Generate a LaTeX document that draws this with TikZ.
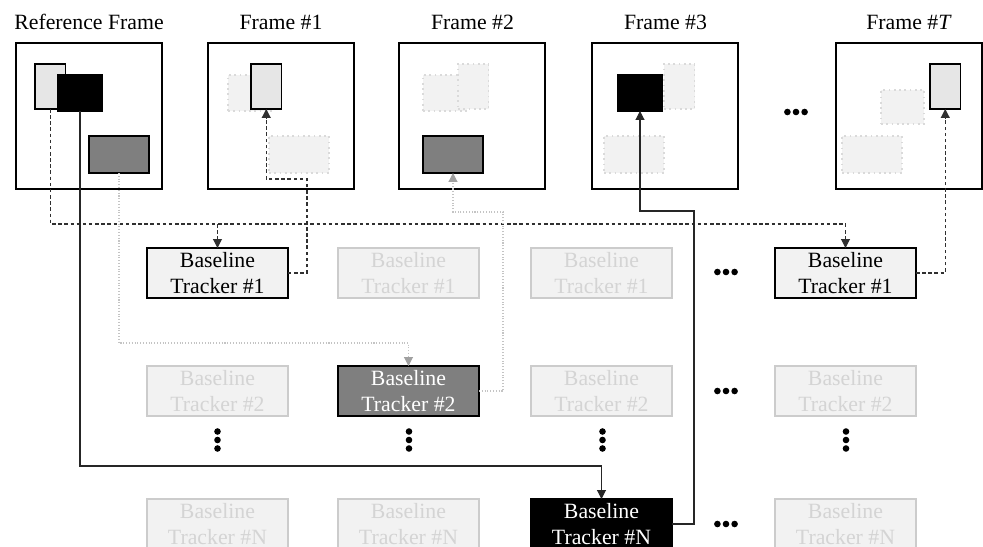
\documentclass[tikz,border=0pt]{standalone}
\usepackage{fontspec}
\setmainfont{Liberation Serif}
\usetikzlibrary{arrows.meta}
\definecolor{lightfill}{HTML}{E6E6E6}
\definecolor{ghostfill}{HTML}{F2F2F2}
\definecolor{ghostline}{HTML}{DADADA}
\definecolor{darkfill}{HTML}{7F7F7F}
\definecolor{fadeline}{HTML}{CCCCCC}
\definecolor{fadetext}{HTML}{D4D4D4}
\definecolor{grayarrow}{HTML}{A0A0A0}
\definecolor{grayline}{HTML}{C4C4C4}
\definecolor{dashcol}{HTML}{303030}
\begin{document}
\begin{tikzpicture}[x=0.02cm,y=-0.02cm,
  every node/.style={inner sep=0pt,outer sep=0pt},
  txt/.style={font=\fontsize{12.4}{15.3}\selectfont},
  framebox/.style={draw,line width=1.1pt,minimum width=2.92cm,minimum height=2.92cm,anchor=north west},
  solidbox/.style={draw,line width=0.9pt,anchor=north west},
  ghostbox/.style={draw=ghostline,fill=ghostfill,line width=1pt,dotted,anchor=north west},
  tallbox/.style={minimum width=0.61cm,minimum height=0.9cm},
  squarebox/.style={minimum width=0.88cm,minimum height=0.72cm},
  widebox/.style={minimum width=1.2cm,minimum height=0.74cm},
  tracker/.style={txt,anchor=north west,minimum width=2.82cm,minimum height=1.0cm,align=center},
  trackon/.style={tracker,draw,line width=1pt},
  trackoff/.style={tracker,draw=fadeline,fill=ghostfill,text=fadetext,line width=0.8pt},
  tip/.style={-{Triangle[width=5pt,length=5pt]}},
  dashc/.style={draw=dashcol,line width=0.6pt,dash pattern=on 2pt off 1.5pt,tip},
  grayc/.style={draw=grayline,line width=0.6pt,densely dotted,-{Triangle[width=5pt,length=5pt,color=grayarrow,fill=grayarrow]}},
  blackc/.style={draw=black!85,line width=0.6pt,tip},
]
\useasboundingbox (0,0) rectangle (983,547);
\clip (0,0) rectangle (983,547);

% titles
\node[txt,anchor=base] (tr) at (89,29.5) {Reference Frame};
\node[txt,anchor=base] (t1) at (281,29.5) {Frame \#1};
\node[txt,anchor=base] (t2) at (472.5,29.5) {Frame \#2};
\node[txt,anchor=base] (t3) at (665.5,29.5) {Frame \#3};
\node[txt,anchor=base] (tT) at (909,29.5) {Frame \#\textit{T}};

% frames
\node[framebox] (fr) at (16,43) {};
\node[framebox] (f1) at (208,43) {};
\node[framebox] (f2) at (399,43) {};
\node[framebox] (f3) at (592,43) {};
\node[framebox] (fT) at (836,43) {};

% reference frame objects
\node[solidbox,tallbox,fill=lightfill] (rl) at (35,64) {};
\node[solidbox,squarebox,fill=black] (rb) at (58,75) {};
\node[solidbox,widebox,fill=darkfill] (rd) at (89,136) {};

% frame 1
\node[ghostbox,squarebox] (g1b) at (228,75) {};
\node[ghostbox,widebox] (g1d) at (269,136) {};
\node[solidbox,tallbox,fill=lightfill] (f1l) at (251,64) {};

% frame 2
\node[ghostbox,squarebox] (g2b) at (423,75) {};
\node[ghostbox,tallbox] (g2l) at (458,64) {};
\node[solidbox,widebox,fill=darkfill] (f2d) at (423,136) {};

% frame 3
\node[ghostbox,tallbox] (g3l) at (664,64) {};
\node[ghostbox,widebox] (g3d) at (604,136) {};
\node[solidbox,squarebox,fill=black] (f3b) at (618,75) {};

% frame T
\node[ghostbox,minimum width=0.86cm,minimum height=0.68cm] (gTb) at (881,90) {};
\node[ghostbox,widebox] (gTd) at (842,136) {};
\node[solidbox,tallbox,fill=lightfill] (fTl) at (930,64) {};

% trackers row 1
\node[trackon,fill=ghostfill] (t11) at (147,248) {Baseline\\Tracker \#1};
\node[trackoff] (t12) at (338,248) {Baseline\\Tracker \#1};
\node[trackoff] (t13) at (531,248) {Baseline\\Tracker \#1};
\node[trackon,fill=ghostfill] (t14) at (775,248) {Baseline\\Tracker \#1};
% row 2
\node[trackoff] (t21) at (147,366) {Baseline\\Tracker \#2};
\node[trackon,fill=darkfill,text=white] (t22) at (338,366) {Baseline\\Tracker \#2};
\node[trackoff] (t23) at (531,366) {Baseline\\Tracker \#2};
\node[trackoff] (t24) at (775,366) {Baseline\\Tracker \#2};
% row N
\node[trackoff] (tN1) at (147,499) {Baseline\\Tracker \#N};
\node[trackoff] (tN2) at (338,499) {Baseline\\Tracker \#N};
\node[trackon,fill=black,text=white] (tN3) at (531,499) {Baseline\\Tracker \#N};
\node[trackoff] (tN4) at (775,499) {Baseline\\Tracker \#N};

% dots
\foreach \x/\y in {796/112, 726/272, 726/391, 726/524}
  \foreach \d in {-8.6,0,8.6} \fill (\x+\d,\y) circle (3.3);
\foreach \x in {217.5,409,602.5,846}
  \foreach \d in {-8.5,0,8.5} \fill (\x,440+\d) circle (3.3);

% helper coordinates
\coordinate (busy) at (0,224);
\coordinate (c1) at (307,179);
\coordinate (gy) at (0,343);
\coordinate (c2) at (503,212);
\coordinate (by) at (0,466);
\coordinate (c3) at (694,211);

% connectors
\draw[dashc] (rl.south) |- (t14.north |- busy) -- (t14.north);
\draw[dashc] (t11.north |- busy) -- (t11.north);
\draw[dashc] (t11.east) -| (c1) -| (f1l.south);
\draw[dashc] (t14.east) -| (fTl.south);

\draw[grayc] (rd.south) |- (t22.north |- gy) -- (t22.north);
\draw[grayc] (t22.east) -| (c2) -| (f2d.south);

\draw[blackc] (rb.south) |- (tN3.north |- by) -- (tN3.north);
\draw[blackc] (tN3.east) -| (c3) -| (f3b.south);
\end{tikzpicture}
\end{document}
